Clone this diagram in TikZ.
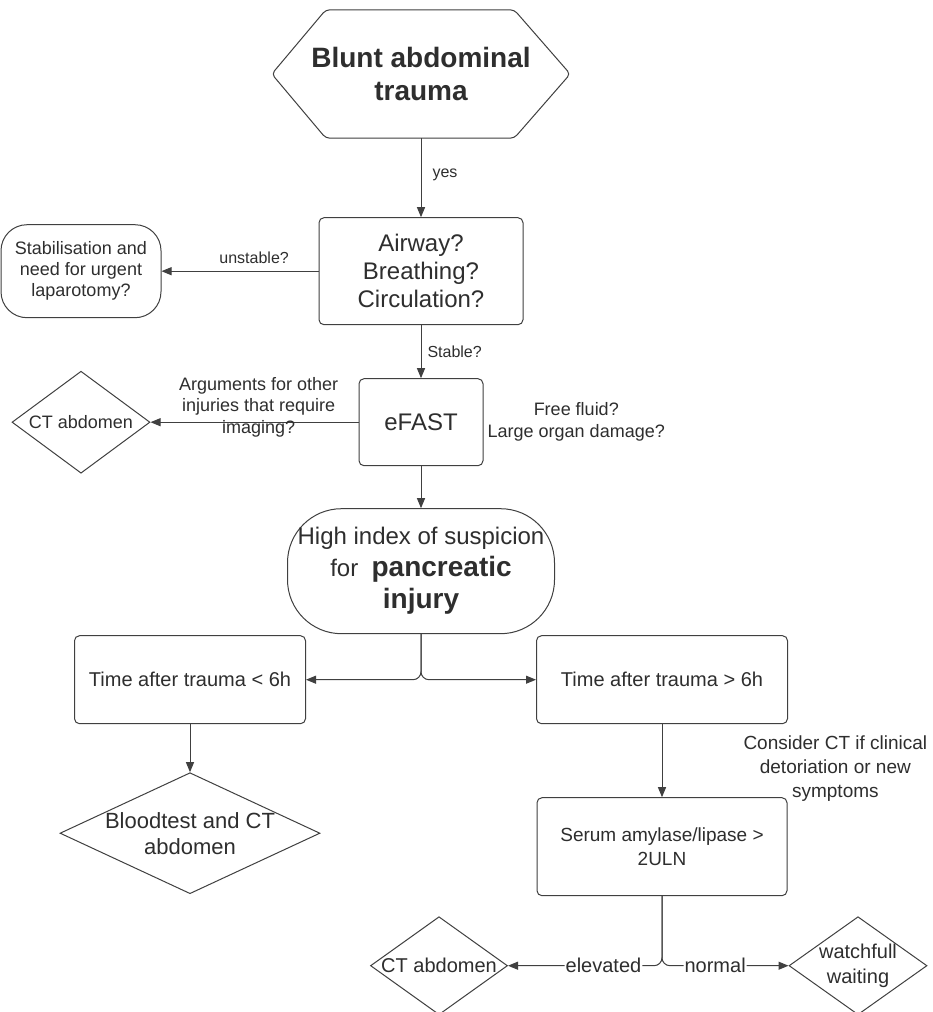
\documentclass[tikz,border=0pt]{standalone}
\usepackage{fontspec}
\setmainfont{Liberation Sans}
\usepackage{tikz}
\usetikzlibrary{arrows.meta, positioning, shapes.geometric}

\definecolor{ink}{HTML}{2E2E2E}
\definecolor{wire}{HTML}{404040}

\newcommand{\fs}[2]{\fontsize{#1}{#2}\selectfont}

\begin{document}
\begin{tikzpicture}[
  x=1pt, y=-1pt,
  every node/.style={text=ink},
  box/.style={rectangle, rounded corners=5pt, draw=wire, line width=1pt,
              inner sep=0pt, align=center},
  decision/.style={diamond, draw=wire, line width=1pt, inner sep=0pt,
                   align=center},
  flow/.style={-{Triangle[length=10pt, width=8pt]}, draw=wire, line width=1pt},
  edge label/.style={font=\fs{16}{19}, inner sep=1pt, align=center}
]
  \path[fill=white, use as bounding box] (0,0) rectangle (933,1012);

  \node[minimum width=298pt, minimum height=128pt, inner sep=0pt, align=center,
        font=\fs{28}{33}\bfseries] (trauma) at (421,74) {Blunt abdominal\\trauma};
  \draw[draw=wire, line width=1pt, rounded corners=4pt]
    ([xshift=54pt]trauma.north west) -- ([xshift=-56pt]trauma.north east)
    -- (trauma.east) -- ([xshift=-56pt]trauma.south east)
    -- ([xshift=54pt]trauma.south west) -- (trauma.west) -- cycle;

  \node[box, minimum width=204pt, minimum height=107pt, font=\fs{24}{28},
        below=79pt of trauma] (abc) {Airway?\\Breathing?\\Circulation?};
  \node[box, rounded corners=26pt, minimum width=160pt, minimum height=93pt,
        font=\fs{18}{21}, left=157pt of abc] (stabilise)
        {Stabilisation and\\need for urgent\\laparotomy?};
  \node[box, minimum width=124pt, minimum height=87pt, font=\fs{24}{28},
        below=53pt of abc] (efast) {eFAST};
  \node[decision, shape aspect=1.35, minimum width=138pt, minimum height=102pt,
        font=\fs{18}{21}, left=208pt of efast] (ctfirst) {CT abdomen};
  \node[font=\fs{18}{22}, align=center, inner sep=0pt, right=4pt of efast] (fluid)
        {Free fluid?\\Large organ damage?};
  \node[box, rounded corners=54pt, minimum width=267pt, minimum height=125pt,
        font=\fs{24}{32}, below=42pt of efast] (suspicion)
        {High index of suspicion\\for~ {\bfseries\fs{28}{32}pancreatic}\\{\bfseries\fs{28}{32}injury}};

  \node[box, minimum width=231pt, minimum height=88pt, font=\fs{20}{24},
        below=1pt of suspicion, xshift=-231pt] (early) {Time after trauma < 6h};
  \node[box, minimum width=251pt, minimum height=88pt, font=\fs{20}{24},
        below=1pt of suspicion, xshift=241pt] (late) {Time after trauma > 6h};
  \node[decision, shape aspect=2.15, inner sep=-6pt, minimum width=260pt,
        minimum height=121pt, font=\fs{22}{26}, below=48pt of early] (bloodtest)
        {Bloodtest and CT\\abdomen};
  \node[box, minimum width=250pt, minimum height=98pt, font=\fs{19}{24},
        below=73pt of late] (serum) {Serum amylase/lipase >\\2ULN};
  \node[decision, shape aspect=1.4, inner sep=-3pt, minimum width=137pt,
        minimum height=98pt, font=\fs{20}{24}, below=20pt of serum,
        xshift=-223pt] (ctsecond) {CT abdomen};
  \node[decision, shape aspect=1.4, inner sep=-2pt, minimum width=138pt,
        minimum height=98pt, font=\fs{20}{25}, below=20pt of serum,
        xshift=196pt] (waiting) {watchfull\\waiting};

  \draw[flow] (trauma) -- node[edge label, right=10pt, pos=0.47]{yes} (abc);
  \draw[flow] (abc) -- node[edge label, above=6pt, pos=0.41]{unstable?} (stabilise);
  \draw[flow] (abc) -- node[edge label, right=5pt]{Stable?} (efast);
  \draw[flow] (efast) -- node[edge label, font=\fs{18}{21.5}, yshift=15pt, pos=0.48]
    {Arguments for other\\injuries that require\\imaging?} (ctfirst);
  \draw[flow] (efast) -- (suspicion);
  \draw[flow, rounded corners=8pt] (suspicion.south) |- (early.east);
  \draw[flow, rounded corners=8pt] (suspicion.south) |- (late.west);
  \draw[flow] (early) -- (bloodtest);
  \draw[flow] (late) -- node[edge label, font=\fs{19}{24}, right=80pt, yshift=-8pt]
    {Consider CT if clinical\\detoriation or new\\symptoms} (serum);
  \draw[flow, rounded corners=8pt] (serum.south) |-
    node[edge label, font=\fs{20}{24}, fill=white, pos=0.69]{elevated} (ctsecond.east);
  \draw[flow, rounded corners=8pt] (serum.south) |-
    node[edge label, font=\fs{20}{24}, fill=white, pos=0.71]{normal} (waiting.west);
\end{tikzpicture}
\end{document}
